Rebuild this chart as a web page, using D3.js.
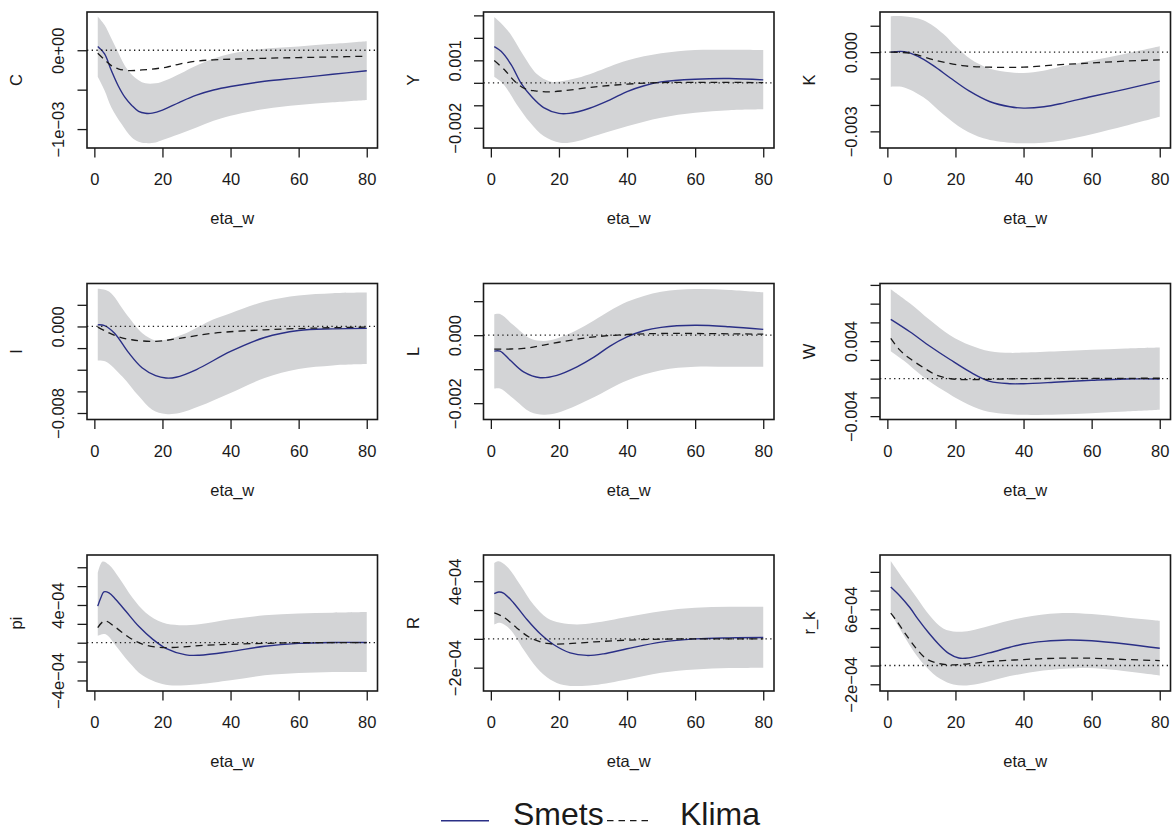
<!DOCTYPE html>
<html>
<head>
<meta charset="utf-8">
<script src="https://cdn.jsdelivr.net/npm/d3@7"></script>
<style>
  body { margin: 0; background: #fff; }
  text { font-family: "Liberation Sans", Arial, Helvetica, sans-serif; fill: #1a1a1a; }
</style>
</head>
<body>
<div id="chart"></div>
<script>
var width = 1176;
var height = 836;

// panels, read row by row
var panelNames = ["C", "Y", "K", "I", "L", "W", "pi", "R", "r_k"];
var xLabel = "eta_w";
var horizon = [1, 80];
var xTicks = [0, 20, 40, 60, 80];
var legendNames = ["Smets", "Klima"];

// y limits of each panel (as R drew them)
var yLimits = [
    [-1.24e-3, 4.85e-4], [-2.9e-3, 3.15e-3], [-3.63e-3, 1.52e-3],
    [-8.6e-3, 3.97e-3], [-2.48e-3, 1.52e-3], [-4.36e-3, 10.15e-3],
    [-5.12e-4, 9.3e-4], [-3.62e-4, 5.82e-4], [-2.72e-4, 1.18e-3]
];
var yTicks = [
    [-1e-3, -5e-4, 0],
    [-0.002, -0.001, 0, 0.001, 0.002, 0.003],
    [-0.003, -0.002, -0.001, 0, 0.001],
    [-0.008, -0.006, -0.004, -0.002, 0, 0.002],
    [-0.002, -0.001, 0, 0.001],
    [-0.004, -0.002, 0, 0.002, 0.004, 0.006, 0.008, 0.010],
    [-4e-4, -2e-4, 0, 2e-4, 4e-4, 6e-4, 8e-4],
    [-2e-4, 0, 2e-4, 4e-4],
    [-2e-4, 0, 2e-4, 4e-4, 6e-4, 8e-4, 1e-3]
];
var yTickLabels = [
    ["\u22121e\u221203", "", "0e+00"],
    ["\u22120.002", "", "", "0.001", "", ""],
    ["\u22120.003", "", "", "0.000", ""],
    ["\u22120.008", "", "", "", "0.000", ""],
    ["\u22120.002", "", "0.000", ""],
    ["\u22120.004", "", "", "", "0.004", "", "", ""],
    ["\u22124e\u221204", "", "", "", "4e\u221204", "", ""],
    ["\u22122e\u221204", "", "", "4e\u221204"],
    ["\u22122e\u221204", "", "", "", "6e\u221204", "", ""]
];

// [period, value]
var smetsC = [[1,0.47e-4],[3,-0.46e-4],[5,-2.58e-4],[7,-4.5e-4],[9,-5.98e-4],[11,-7.0e-4],[13,-7.76e-4],[15,-8.0e-4],[17,-7.98e-4],[20,-7.6e-4],[25,-6.6e-4],[30,-5.7e-4],[35,-5.05e-4],[40,-4.6e-4],[50,-3.94e-4],[60,-3.5e-4],[70,-3.05e-4],[80,-2.6e-4]];
var klimaC = [[1,-0.38e-4],[3,-1.2e-4],[5,-1.95e-4],[7,-2.35e-4],[10,-2.58e-4],[14,-2.5e-4],[21,-2.16e-4],[25,-1.75e-4],[30,-1.38e-4],[35,-1.22e-4],[40,-1.14e-4],[50,-1.02e-4],[60,-0.93e-4],[70,-0.85e-4],[80,-0.76e-4]];
var upperC = [[1,4.29e-4],[3,3.2e-4],[5,1.5e-4],[7,-0.3e-4],[9,-2.0e-4],[11,-3.1e-4],[13,-3.8e-4],[15,-4.2e-4],[18,-4.2e-4],[21,-3.8e-4],[25,-3.0e-4],[31,-1.73e-4],[40,-0.46e-4],[50,0.18e-4],[60,0.47e-4],[70,0.81e-4],[80,1.15e-4]];
var lowerC = [[1,-3.35e-4],[3,-5.1e-4],[5,-7.25e-4],[8,-9.36e-4],[11,-11.07e-4],[13,-11.6e-4],[15,-11.78e-4],[18,-11.7e-4],[20,-11.4e-4],[25,-10.64e-4],[30,-9.8e-4],[35,-8.94e-4],[40,-8.3e-4],[50,-7.46e-4],[60,-6.95e-4],[70,-6.6e-4],[80,-6.3e-4]];

var smetsY = [[1,1.61e-3],[3,1.4e-3],[6,0.8e-3],[9,-0.05e-3],[12,-0.62e-3],[15.5,-1.1e-3],[20,-1.36e-3],[23,-1.36e-3],[29,-1.13e-3],[35,-0.76e-3],[40,-0.39e-3],[45,-0.13e-3],[50,0.04e-3],[60,0.16e-3],[70,0.19e-3],[80,0.13e-3]];
var klimaY = [[1,0.99e-3],[4,0.58e-3],[7,0.07e-3],[10,-0.26e-3],[13,-0.36e-3],[17,-0.40e-3],[21,-0.36e-3],[30,-0.19e-3],[40,-0.06e-3],[50,0.01e-3],[65,0.02e-3],[80,0.01e-3]];
var upperY = [[1,2.93e-3],[3,2.65e-3],[5.7,2.18e-3],[9.6,1.21e-3],[13.5,0.39e-3],[17.4,0.06e-3],[20.4,0.06e-3],[25.3,0.21e-3],[30.4,0.46e-3],[40,0.99e-3],[50,1.31e-3],[60,1.46e-3],[70,1.47e-3],[80,1.46e-3]];
var lowerY = [[1,0.27e-3],[3.7,-0.06e-3],[7.6,-0.96e-3],[11.6,-1.78e-3],[15.5,-2.37e-3],[20.4,-2.67e-3],[25.3,-2.60e-3],[30.4,-2.37e-3],[40,-1.93e-3],[50,-1.55e-3],[60,-1.33e-3],[70,-1.22e-3],[80,-1.18e-3]];

var smetsK = [[1,0],[5,0.02e-3],[9,-0.16e-3],[13.5,-0.51e-3],[18.5,-0.98e-3],[24,-1.47e-3],[30,-1.87e-3],[36,-2.07e-3],[40,-2.12e-3],[46,-2.07e-3],[52,-1.92e-3],[60,-1.68e-3],[70,-1.40e-3],[80,-1.10e-3]];
var klimaK = [[1,0],[6.5,-0.04e-3],[14.5,-0.32e-3],[22,-0.51e-3],[30,-0.57e-3],[40,-0.57e-3],[50,-0.48e-3],[60,-0.41e-3],[70,-0.34e-3],[80,-0.29e-3]];
var upperK = [[1,1.36e-3],[4.7,1.36e-3],[10.6,1.21e-3],[16.4,0.70e-3],[20.3,0.19e-3],[24.3,-0.25e-3],[30.1,-0.63e-3],[36,-0.76e-3],[40,-0.79e-3],[45.8,-0.70e-3],[50.3,-0.57e-3],[60,-0.32e-3],[70,-0.06e-3],[80,0.22e-3]];
var lowerK = [[1,-1.31e-3],[4.7,-1.33e-3],[10.6,-1.71e-3],[16.4,-2.35e-3],[22.3,-2.92e-3],[28.2,-3.26e-3],[36,-3.43e-3],[40,-3.45e-3],[45.8,-3.43e-3],[51.6,-3.34e-3],[60,-3.11e-3],[70,-2.79e-3],[80,-2.45e-3]];

var smetsI = [[1,0.15e-3],[3,0.08e-3],[6,-0.65e-3],[10,-2.4e-3],[14,-3.82e-3],[18,-4.55e-3],[21,-4.77e-3],[24,-4.7e-3],[30,-3.98e-3],[40,-2.31e-3],[50,-1.02e-3],[60,-0.37e-3],[70,-0.22e-3],[80,-0.18e-3]];
var klimaI = [[1,-0.06e-3],[4,-0.55e-3],[7,-0.95e-3],[11,-1.23e-3],[18,-1.38e-3],[25,-1.1e-3],[35,-0.62e-3],[50,-0.31e-3],[65,-0.15e-3],[80,-0.06e-3]];
var upperI = [[1,3.48e-3],[4.3,3.23e-3],[9.2,1.23e-3],[14.1,-0.62e-3],[18,-1.29e-3],[21,-1.23e-3],[26.9,-0.62e-3],[34.7,0.62e-3],[40,1.23e-3],[50,2.31e-3],[60,2.86e-3],[70,3.08e-3],[80,3.14e-3]];
var lowerI = [[1,-3.14e-3],[3.3,-3.23e-3],[8.2,-4.62e-3],[13.1,-6.46e-3],[17,-7.69e-3],[21,-8.09e-3],[25,-8.0e-3],[30.8,-7.38e-3],[40,-6.15e-3],[50,-4.77e-3],[60,-3.94e-3],[70,-3.6e-3],[80,-3.48e-3]];

var smetsL = [[1,-0.47e-3],[2.7,-0.47e-3],[5.7,-0.74e-3],[9.6,-1.08e-3],[14.5,-1.25e-3],[19.4,-1.18e-3],[25.3,-0.93e-3],[30.4,-0.64e-3],[35,-0.32e-3],[40,-0.05e-3],[44.9,0.13e-3],[50,0.23e-3],[60,0.29e-3],[70,0.25e-3],[80,0.17e-3]];
var klimaL = [[1,-0.41e-3],[9.6,-0.39e-3],[15.5,-0.29e-3],[23.3,-0.15e-3],[30.4,-0.05e-3],[40,0.02e-3],[50,0.05e-3],[80,0.03e-3]];
var upperL = [[1,0.61e-3],[2.7,0.62e-3],[6.7,0.29e-3],[11.6,-0.10e-3],[15.5,-0.17e-3],[19.4,-0.10e-3],[25.3,0.15e-3],[30.4,0.44e-3],[40,0.98e-3],[50,1.28e-3],[60,1.36e-3],[70,1.33e-3],[80,1.26e-3]];
var lowerL = [[1,-1.57e-3],[2.7,-1.57e-3],[6.7,-1.87e-3],[11.6,-2.26e-3],[15.5,-2.34e-3],[19.4,-2.29e-3],[25.3,-2.06e-3],[30.4,-1.82e-3],[40,-1.33e-3],[50,-1.03e-3],[60,-0.93e-3],[70,-0.93e-3],[80,-0.93e-3]];

var smetsW = [[1,6.32e-3],[6.6,5.0e-3],[12.5,3.46e-3],[18.4,2.04e-3],[24.3,0.71e-3],[30.1,-0.29e-3],[36,-0.54e-3],[40,-0.54e-3],[50.3,-0.36e-3],[60,-0.18e-3],[70,-0.04e-3],[80,-0.04e-3]];
var klimaW = [[1,4.29e-3],[3.7,3.04e-3],[6.6,2.14e-3],[10.6,1.18e-3],[14.5,0.36e-3],[18.4,0],[22.3,-0.1e-3],[30.1,-0.07e-3],[40,0],[80,0.04e-3]];
var upperW = [[1,9.54e-3],[6.6,8.04e-3],[12.5,6.25e-3],[18.4,4.64e-3],[24.3,3.57e-3],[30.1,2.93e-3],[36,2.75e-3],[40,2.79e-3],[50.3,2.93e-3],[60,3.07e-3],[70,3.21e-3],[80,3.32e-3]];
var lowerW = [[1,2.93e-3],[4.7,1.96e-3],[10.6,0.18e-3],[16.4,-1.25e-3],[22.3,-2.5e-3],[28.2,-3.39e-3],[34,-3.75e-3],[40,-3.86e-3],[50.3,-3.82e-3],[60,-3.68e-3],[70,-3.5e-3],[80,-3.32e-3]];

var smetsPi = [[1,3.88e-4],[1.9,4.76e-4],[2.8,5.39e-4],[4.3,5.28e-4],[6.3,4.58e-4],[9.2,3.36e-4],[13.1,1.71e-4],[17.1,0.38e-4],[21,-0.59e-4],[26.9,-1.29e-4],[30.8,-1.33e-4],[40,-0.94e-4],[50,-0.38e-4],[60,-0.07e-4],[70,0.03e-4],[80,0.03e-4]];
var klimaPi = [[1,1.61e-4],[2.4,2.2e-4],[3.3,2.31e-4],[6.3,1.61e-4],[10.2,0.56e-4],[14.1,-0.14e-4],[19,-0.49e-4],[24,-0.49e-4],[30.8,-0.31e-4],[40,-0.17e-4],[60,0],[80,0]];
var upperPi = [[1,7.38e-4],[2.4,8.6e-4],[4.3,8.26e-4],[7.3,6.86e-4],[11.2,4.76e-4],[15.1,3.18e-4],[20,2.13e-4],[24.9,1.85e-4],[30.8,1.96e-4],[40,2.48e-4],[50,2.9e-4],[60,3.11e-4],[70,3.18e-4],[80,3.25e-4]];
var lowerPi = [[1,0.73e-4],[3.3,0.91e-4],[6.3,-0.31e-4],[10.2,-2.06e-4],[14.1,-3.46e-4],[18,-4.16e-4],[22,-4.51e-4],[26.9,-4.51e-4],[30.8,-4.41e-4],[40,-3.99e-4],[50,-3.46e-4],[60,-3.22e-4],[70,-3.11e-4],[80,-3.11e-4]];

var smetsR = [[1,3.14e-4],[2.3,3.25e-4],[3.7,3.18e-4],[6.7,2.49e-4],[10.6,1.34e-4],[14.5,0.35e-4],[18.4,-0.39e-4],[23.3,-0.97e-4],[28.2,-1.15e-4],[33.1,-1.04e-4],[40,-0.69e-4],[50,-0.23e-4],[60,0],[70,0.07e-4],[80,0.09e-4]];
var klimaR = [[1,1.8e-4],[3.7,1.52e-4],[7.6,0.76e-4],[11.6,0.07e-4],[16.5,-0.32e-4],[21.4,-0.35e-4],[30.4,-0.21e-4],[40,-0.09e-4],[50,-0.02e-4],[80,0]];
var upperR = [[1,5.26e-4],[2.3,5.38e-4],[4.7,5.03e-4],[8.6,3.76e-4],[12.5,2.38e-4],[16.5,1.45e-4],[20.4,1.11e-4],[25.3,0.99e-4],[30.4,1.11e-4],[40,1.52e-4],[50,1.92e-4],[60,2.15e-4],[70,2.22e-4],[80,2.22e-4]];
var lowerR = [[1,0.99e-4],[2.7,1.11e-4],[5.7,0.65e-4],[9.6,-0.74e-4],[13.5,-2.0e-4],[17.4,-2.82e-4],[21.4,-3.21e-4],[25.3,-3.28e-4],[30.4,-3.21e-4],[40,-2.82e-4],[50,-2.35e-4],[60,-2.12e-4],[70,-2.03e-4],[80,-2.0e-4]];

var smetsRk = [[1,8.39e-4],[3.7,7.43e-4],[6.6,6.19e-4],[9,4.95e-4],[12,3.55e-4],[15,2.3e-4],[18,1.3e-4],[21,0.8e-4],[24,0.82e-4],[30,1.35e-4],[36,1.95e-4],[40,2.3e-4],[46,2.58e-4],[53,2.73e-4],[60,2.65e-4],[70,2.3e-4],[80,1.84e-4]];
var klimaRk = [[1,5.59e-4],[2.7,4.78e-4],[5.7,3.19e-4],[8.6,1.77e-4],[11.5,0.71e-4],[14.5,0.28e-4],[18.4,0.07e-4],[22.3,0.14e-4],[30.1,0.42e-4],[40,0.64e-4],[50.3,0.78e-4],[60,0.78e-4],[70,0.64e-4],[80,0.53e-4]];
var upperRk = [[1,11.15e-4],[4.7,9.2e-4],[8.6,7.26e-4],[12.5,5.31e-4],[16.4,3.96e-4],[20.3,3.61e-4],[24.3,3.72e-4],[30.1,4.25e-4],[40,5.13e-4],[50.3,5.59e-4],[60,5.49e-4],[70,5.13e-4],[80,4.78e-4]];
var lowerRk = [[1,5.66e-4],[3.7,3.89e-4],[7.6,1.59e-4],[11.5,-0.18e-4],[15.5,-1.42e-4],[19.4,-2.02e-4],[23.3,-2.12e-4],[28.2,-1.84e-4],[36,-1.13e-4],[45.8,-0.53e-4],[55.6,-0.28e-4],[65.3,-0.42e-4],[80,-1.06e-4]];

var smets = [smetsC, smetsY, smetsK, smetsI, smetsL, smetsW, smetsPi, smetsR, smetsRk];
var klima = [klimaC, klimaY, klimaK, klimaI, klimaL, klimaW, klimaPi, klimaR, klimaRk];
var upper = [upperC, upperY, upperK, upperI, upperL, upperW, upperPi, upperR, upperRk];
var lower = [lowerC, lowerY, lowerK, lowerI, lowerL, lowerW, lowerPi, lowerR, lowerRk];

// layout of the 3x3 grid
var colLeft = [87, 483.5, 880];
var rowTop = [12, 283.5, 555];
var boxW = 290.5;
var boxH = 136;
var blue = "#2a2f86";
var ink = "#1a1a1a";
var fontSize = 16.5;

var svg = d3.select("#chart")
    .append("svg")
    .attr("width", width)
    .attr("height", height);

// R pads the x range by 4% on each side
var pad = 0.04 * (horizon[1] - horizon[0]);

panelNames.forEach(function(name, i) {
    var left = colLeft[i % 3];
    var top = rowTop[Math.floor(i / 3)];

    var xScale = d3.scaleLinear()
        .domain([horizon[0] - pad, horizon[1] + pad])
        .range([left, left + boxW]);
    var yScale = d3.scaleLinear()
        .domain(yLimits[i])
        .range([top + boxH, top]);

    var line = d3.line()
        .x(function(d) { return xScale(d[0]); })
        .y(function(d) { return yScale(d[1]); })
        .curve(d3.curveCatmullRom.alpha(0.5));

    var g = svg.append("g");

    // confidence band: upper edge forward, lower edge back
    var back = line(lower[i].slice().reverse());
    g.append("path")
        .attr("d", line(upper[i]) + "L" + back.slice(1) + "Z")
        .attr("fill", "#d3d4d6")
        .attr("stroke", "none");

    g.append("path")
        .attr("d", line(smets[i]))
        .attr("fill", "none")
        .attr("stroke", blue)
        .attr("stroke-width", 1.4);

    g.append("path")
        .attr("d", line(klima[i]))
        .attr("fill", "none")
        .attr("stroke", ink)
        .attr("stroke-width", 1.3)
        .attr("stroke-dasharray", "7,5");

    // zero line
    g.append("line")
        .attr("x1", left).attr("x2", left + boxW)
        .attr("y1", yScale(0)).attr("y2", yScale(0))
        .attr("stroke", ink)
        .attr("stroke-width", 1.3)
        .attr("stroke-dasharray", "1.3,3.4");

    g.append("rect")
        .attr("x", left).attr("y", top)
        .attr("width", boxW).attr("height", boxH)
        .attr("fill", "none")
        .attr("stroke", ink)
        .attr("stroke-width", 1.6);

    // x axis
    var xAxis = d3.axisBottom(xScale).tickValues(xTicks).tickSize(9.5);
    var gx = g.append("g")
        .attr("transform", "translate(0," + (top + boxH) + ")")
        .call(xAxis);
    gx.select(".domain").remove();
    gx.selectAll("line").attr("stroke", ink).attr("stroke-width", 1.3);
    gx.selectAll("text")
        .attr("y", 37).attr("dy", 0)
        .style("font-size", fontSize + "px")
        .attr("fill", ink);

    // y axis, labels parallel to the axis
    var labels = yTickLabels[i];
    var yAxis = d3.axisLeft(yScale)
        .tickValues(yTicks[i])
        .tickSize(9.5)
        .tickFormat(function(d, j) { return labels[j]; });
    var gy = g.append("g")
        .attr("transform", "translate(" + left + ",0)")
        .call(yAxis);
    gy.select(".domain").remove();
    gy.selectAll("line").attr("stroke", ink).attr("stroke-width", 1.3);
    gy.selectAll("text")
        .attr("x", 0).attr("y", 0).attr("dy", 0)
        .attr("transform", "translate(-23,0) rotate(-90)")
        .attr("text-anchor", "middle")
        .style("font-size", fontSize + "px")
        .attr("fill", ink);

    // axis titles
    g.append("text")
        .attr("x", left + boxW / 2)
        .attr("y", top + boxH + 76)
        .attr("text-anchor", "middle")
        .style("font-size", fontSize + "px")
        .text(xLabel);

    g.append("text")
        .attr("transform", "translate(" + (left - 65) + "," + (top + boxH / 2) + ") rotate(-90)")
        .attr("text-anchor", "middle")
        .style("font-size", fontSize + "px")
        .text(name);
});

// legend at the bottom
var legend = svg.append("g");
legend.append("line")
    .attr("x1", 441).attr("x2", 489)
    .attr("y1", 820.7).attr("y2", 820.7)
    .attr("stroke", blue)
    .attr("stroke-width", 1.4);
legend.append("text")
    .attr("x", 513).attr("y", 824.5)
    .style("font-size", "32px")
    .text(legendNames[0]);
legend.append("line")
    .attr("x1", 607).attr("x2", 652)
    .attr("y1", 820.7).attr("y2", 820.7)
    .attr("stroke", ink)
    .attr("stroke-width", 1.3)
    .attr("stroke-dasharray", "6.5,5");
legend.append("text")
    .attr("x", 680).attr("y", 824.5)
    .style("font-size", "32px")
    .text(legendNames[1]);
</script>
</body>
</html>
